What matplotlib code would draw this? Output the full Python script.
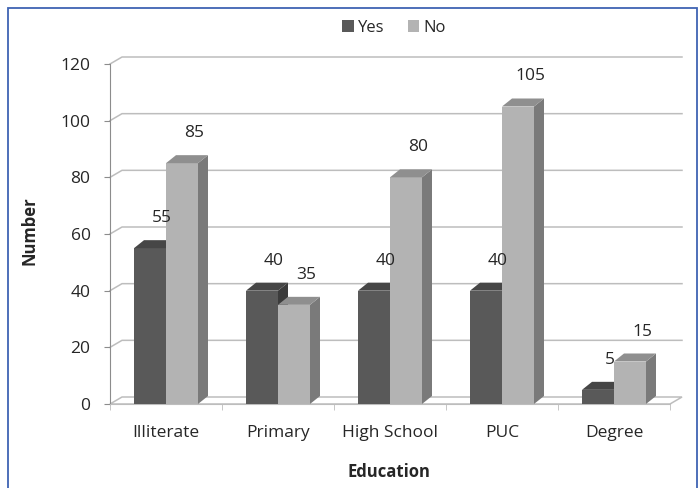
import matplotlib
matplotlib.use("Agg")
import matplotlib.pyplot as plt
from matplotlib.patches import Polygon, Rectangle, Patch

# ---- data ----
categories = ["Illiterate", "Primary", "High School", "PUC", "Degree"]
yes_counts = [55, 40, 40, 40, 5]
no_counts = [85, 35, 80, 105, 15]
y_ticks = [0, 20, 40, 60, 80, 100, 120]
series_names = ["Yes", "No"]

# ---- style ----
plt.rcParams["font.family"] = ["Open Sans", "DejaVu Sans"]
TEXT = "#262626"
GRID = "#bdbdbd"
AXIS = "#8c8c8c"
YES_COLORS = {"front": "#595959", "side": "#3b3b3b", "top": "#464646"}
NO_COLORS = {"front": "#b3b3b3", "side": "#7a7a7a", "top": "#8f8f8f"}

W, H = 699, 488
fig = plt.figure(figsize=(W / 100, H / 100), dpi=100)
fig.patch.set_facecolor("white")

# plot area (front plane) in pixels
L, R, B, T = 110, 670, 404, 64
ax = fig.add_axes([L / W, 1 - B / H, (R - L) / W, (B - T) / H])
n = len(categories)
ax.set_xlim(-0.5, n - 0.5)
ax.set_ylim(0, 120)
ax.set_facecolor("none")

px_x = (R - L) / n          # pixels per category
px_y = (B - T) / 120.0      # pixels per unit value
wall_dx, wall_dy = 12 / px_x, 7 / px_y   # depth of back wall
bar_dx, bar_dy = 10 / px_x, 8 / px_y     # depth of each column
bar_w = 32 / px_x

# back-wall gridlines with slanted connectors to the front axis
x0, x1 = -0.5, n - 0.5
for v in y_ticks[1:]:
    ax.plot([x0, x0 + wall_dx, x1 + wall_dx], [v, v + wall_dy, v + wall_dy],
            color=GRID, lw=1.1, zorder=1, clip_on=False)
# floor
ax.add_patch(Polygon([(x0, 0), (x1, 0), (x1 + wall_dx, wall_dy), (x0 + wall_dx, wall_dy)],
                     closed=True, facecolor="white", edgecolor=GRID, lw=1.1,
                     zorder=1.5, clip_on=False))


def draw_columns(xs, values, colors, z):
    bars = ax.bar(xs, values, width=bar_w, align="edge", color=colors["front"],
                  linewidth=0, zorder=z)
    for rect, v in zip(bars, values):
        xl = rect.get_x()
        xr = xl + rect.get_width()
        side = [(xr, 0), (xr + bar_dx, bar_dy), (xr + bar_dx, v + bar_dy), (xr, v)]
        top = [(xl, v), (xr, v), (xr + bar_dx, v + bar_dy), (xl + bar_dx, v + bar_dy)]
        ax.add_patch(Polygon(side, closed=True, facecolor=colors["side"], lw=0,
                             zorder=z, clip_on=False))
        ax.add_patch(Polygon(top, closed=True, facecolor=colors["top"], lw=0,
                             zorder=z, clip_on=False))
        ax.annotate(str(v), xy=(xl + rect.get_width() / 2, v), xytext=(12, 30),
                    textcoords="offset pixels", ha="center", va="center",
                    fontsize=12.5, color=TEXT, zorder=10)


positions = list(range(n))
draw_columns([p - bar_w for p in positions], yes_counts, YES_COLORS, 3)
draw_columns(positions, no_counts, NO_COLORS, 4)

# axes: front vertical axis and floor front edge
for s in ["top", "right"]:
    ax.spines[s].set_visible(False)
ax.spines["left"].set_color(AXIS)
ax.spines["bottom"].set_color(GRID)
ax.spines["left"].set_zorder(2)
ax.spines["bottom"].set_zorder(2)

ax.set_yticks(y_ticks)
ax.set_yticklabels([str(t) for t in y_ticks])
ax.tick_params(axis="y", direction="out", length=4, color=AXIS, pad=10,
               labelsize=12.5, labelcolor=TEXT)

ax.set_xticks(positions)
ax.set_xticklabels(categories)
ax.set_xticks([p - 0.5 for p in positions] + [n - 0.5], minor=True)
ax.tick_params(axis="x", which="major", length=0, pad=15, labelsize=12.5,
               labelcolor=TEXT)
ax.tick_params(axis="x", which="minor", direction="out", length=4, color=GRID)

# axis titles
fig.text(30 / W, 1 - 231 / H, "Number", rotation=90, ha="center", va="center",
         fontsize=12, fontweight="bold", color=TEXT)
fig.text(389 / W, 1 - 472 / H, "Education", ha="center", va="center",
         fontsize=12, fontweight="bold", color=TEXT)

# legend
handles = [Patch(facecolor=YES_COLORS["front"], label=series_names[0]),
           Patch(facecolor=NO_COLORS["front"], label=series_names[1])]
fig.legend(handles=handles, loc="center", bbox_to_anchor=(394 / W, 1 - 28 / H),
           ncol=2, frameon=False, fontsize=12, handlelength=0.7, handleheight=0.7,
           handletextpad=0.25, columnspacing=1.4, labelcolor=TEXT)

# chart border
fig.add_artist(Rectangle((8 / W, -0.05), (697 - 8) / W, 1.05 - 8 / H,
                         transform=fig.transFigure, fill=False,
                         edgecolor="#3f63b3", lw=1.3))

fig.savefig("out.png", dpi=100, facecolor="white")
